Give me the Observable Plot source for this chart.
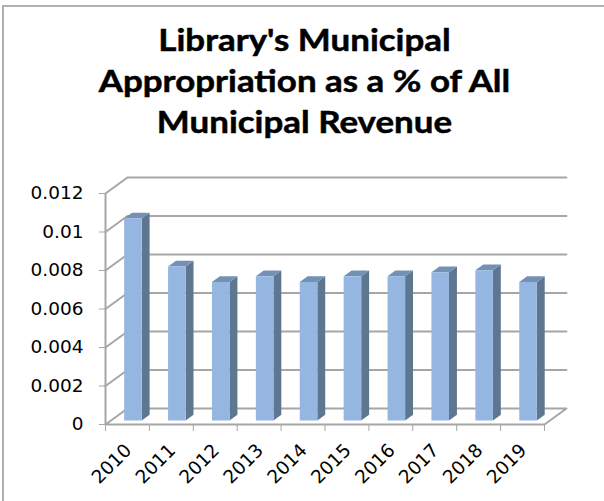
<!DOCTYPE html>
<html>
<head>
<meta charset="utf-8">
<script src="https://cdn.jsdelivr.net/npm/d3@7"></script>
<script src="https://cdn.jsdelivr.net/npm/@observablehq/plot@0.6"></script>
<style>
html,body{margin:0;padding:0;background:#fff;overflow:hidden}
#page{position:relative;width:604px;height:501px;overflow:hidden}
#frame{position:absolute;left:2px;top:5px;width:610px;height:510px;border-left:2px solid #b0b0b0;border-top:2px solid #b0b0b0}
#title{position:absolute;left:0;top:19px;width:609px;text-align:center;font:700 31px/41px Lato,sans-serif;color:#000;-webkit-text-stroke:0.5px #000;transform:scaleX(1.126);transform-origin:center}
#chart{position:absolute;left:0;top:160px}
#chart svg{overflow:visible}
</style>
</head>
<body>
<div id="page">
<div id="frame"></div>
<div id="title">Library's Municipal<br>Appropriation as a % of All<br>Municipal Revenue</div>
<div id="chart"></div>
</div>
<script>
const years = [2010, 2011, 2012, 2013, 2014, 2015, 2016, 2017, 2018, 2019];
const shares = [0.0105, 0.0080, 0.0072, 0.0075, 0.0072, 0.0075, 0.0075, 0.0077, 0.0078, 0.0072];
const yTicks = [0, 0.002, 0.004, 0.006, 0.008, 0.01, 0.012];

// Oblique projection: depth d (0 front .. 1 back) shifts a point in data units.
const shiftX = 0.5, shiftY = 0.00083;
const at = (pos, value, d) => ({x: pos + d * shiftX, y: value + d * shiftY});
const frontD = 0.25, backD = 0.61, barL = 0.3, barR = 0.7;

const faces = {front: [], side: [], top: []};
years.forEach((year, i) => {
  const v = shares[i], l = i + barL, r = i + barR;
  const add = (k, pts) => pts.forEach(p => faces[k].push({...p, id: year}));
  add("side", [at(r, 0, frontD), at(r, 0, backD), at(r, v, backD), at(r, v, frontD)]);
  add("top", [at(l, v, frontD), at(r, v, frontD), at(r, v, backD), at(l, v, backD)]);
  add("front", [at(l, 0, frontD), at(r, 0, frontD), at(r, v, frontD), at(l, v, frontD)]);
});

const wallLines = yTicks.slice(1).flatMap(v => [
  {...at(0, v, 0), id: v}, {...at(0, v, 1), id: v}, {...at(10, v, 1), id: v}
]);
const floor = [at(0, 0, 0), at(10, 0, 0), at(10, 0, 1), at(0, 0, 1)];
const grey = "#a6a6a6";
const poly = (data, fill) => Plot.line(data, {x: "x", y: "y", z: "id", curve: "linear-closed", fill, stroke: "none"});

const chart = Plot.plot({
  width: 604, height: 341,
  marginLeft: 105, marginRight: 60, marginTop: 33, marginBottom: 77,
  style: {background: "transparent", fontFamily: "'DejaVu Sans', sans-serif", overflow: "visible"},
  x: {type: "linear", domain: [0, 10], axis: null},
  y: {type: "linear", domain: [0, 0.012], axis: null},
  marks: [
    Plot.line(wallLines, {x: "x", y: "y", z: "id", stroke: grey, strokeWidth: 2}),
    Plot.line(floor, {x: "x", y: "y", curve: "linear-closed", stroke: grey, strokeWidth: 2, fill: "#fff"}),
    Plot.ruleX([0], {y1: 0, y2: 0.012, stroke: grey, strokeWidth: 2}),
    poly(faces.side, "#5f7690"),
    poly(faces.top, "#7390b5"),
    poly(faces.front, "#95b6e0"),
    Plot.axisY({ticks: yTicks, tickSize: 6, tickPadding: 16, stroke: grey, fill: "#000", fontSize: 18.5, label: null,
      tickFormat: d => String(+d.toFixed(3))}),
    Plot.axisX({ticks: d3.range(0, 11), tickSize: 7, stroke: grey, label: null, tickFormat: () => ""}),
    Plot.text(years, {x: (d, i) => i + 0.5, y: 0, text: d => String(d), rotate: -45, textAnchor: "middle",
      fontSize: 18.5, fill: "#000", dx: -15.7, dy: 39.5})
  ]
});
document.getElementById("chart").append(chart);
</script>
</body>
</html>
